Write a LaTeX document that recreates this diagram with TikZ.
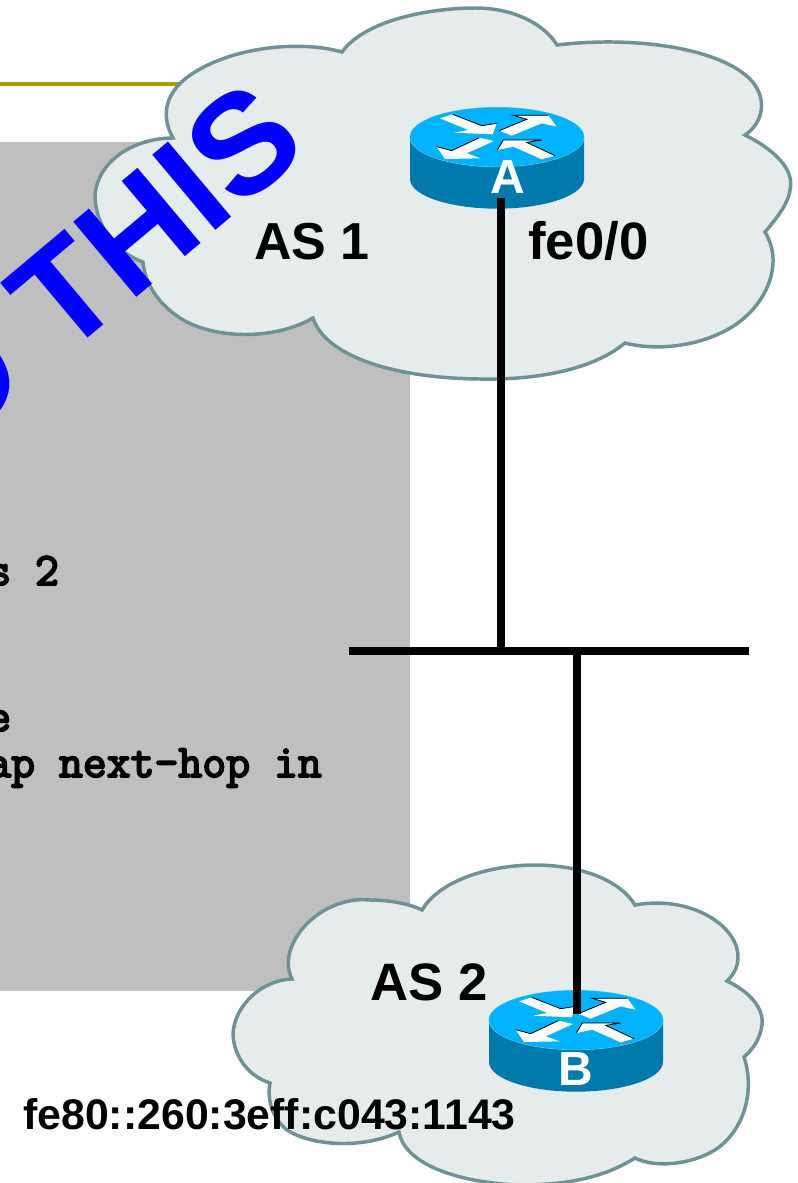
\documentclass[tikz,border=0pt]{standalone}
\usepackage{fontspec}
\setmainfont{Liberation Sans}
\newfontfamily\cfgfont[FakeBold=4]{Latin Modern Mono}
\definecolor{gold}{HTML}{A89C00}
\definecolor{panel}{HTML}{BFBFBF}
\definecolor{cloudfill}{HTML}{E6ECEC}
\definecolor{cloudline}{HTML}{6F9296}
\definecolor{rtop}{HTML}{00B2FF}
\definecolor{rside}{HTML}{0079AC}
\newcommand{\routerbody}{%
  \fill[rside] (30,141) -- (30,267) arc[x radius=261,y radius=89,start angle=180,end angle=0] -- (552,141) -- cycle;
  \draw[rtop!50!white,line width=.6pt] (291,141) ellipse[x radius=261,y radius=89];
  \fill[rtop] (291,141) ellipse[x radius=261,y radius=89];
  \fill[white] (120,85) -- (158,73) -- (245,107) -- (290,100) -- (278,133) -- (162,128) -- (205,120) -- cycle;
  \fill[white] (298,122) -- (380,88) -- (340,76) -- (445,76) -- (470,110) -- (425,100) -- (335,137) -- cycle;
  \fill[white] (282,153) -- (238,143) -- (155,182) -- (110,170) -- (135,207) -- (242,205) -- (200,190) -- cycle;
  \fill[white] (292,180) -- (310,150) -- (425,150) -- (380,157) -- (465,197) -- (425,208) -- (340,170) -- cycle;
  \draw[black,line width=.6pt] (158,73) -- (245,107) -- (290,100);
  \draw[black,line width=.6pt] (298,122) -- (380,88) -- (340,76) -- (445,76);
  \draw[black,line width=.6pt] (238,143) -- (155,182) -- (110,170);
  \draw[black,line width=.6pt] (292,180) -- (310,150) -- (425,150) -- (380,157) -- (465,197);
}
\tikzset{
  cloudshape/.style={fill=cloudfill,draw=cloudline,line width=2.6pt,line join=miter,miter limit=3},
  wire/.style={line width=6pt,black},
  lab/.style={inner sep=0pt,font=\fontsize{39}{39}\selectfont\bfseries,anchor=base west},
  rlab/.style={inner sep=0pt,text=white,font=\fontsize{36}{36}\selectfont\bfseries,anchor=base},
  cfg/.style={inner sep=0pt,font=\fontsize{34.8}{34.8}\selectfont\cfgfont,anchor=base west},
}
\begin{document}
\begin{tikzpicture}[x=0.75pt,y=-0.75pt]
\useasboundingbox (0,0) rectangle (798,1183);
\fill[panel] (0,142) rectangle (410,991);
\draw[gold,line width=3pt] (0,84) -- (190,84);
% cloud AS 1
\draw[cloudshape]
 (173,138) .. controls (160,115) and (165,90) .. (195,72)
 .. controls (235,47) and (300,40) .. (342,52)
 .. controls (365,20) and (430,8) .. (475,8)
 .. controls (515,8) and (545,25) .. (557,45)
 .. controls (640,35) and (730,50) .. (755,85)
 .. controls (768,105) and (760,125) .. (745,135)
 .. controls (775,150) and (795,170) .. (790,190)
 .. controls (788,205) and (775,220) .. (765,232)
 .. controls (785,265) and (765,305) .. (735,325)
 .. controls (705,345) and (660,352) .. (625,343)
 .. controls (590,372) and (530,380) .. (480,379)
 .. controls (390,378) and (325,355) .. (313,318)
 .. controls (275,340) and (215,340) .. (180,318)
 .. controls (160,305) and (145,285) .. (143,262)
 .. controls (110,250) and (95,220) .. (95,195)
 .. controls (98,160) and (135,138) .. (173,138) -- cycle;
% cloud AS 2
\draw[cloudshape]
 (422,910) .. controls (440,880) and (490,865) .. (535,865)
 .. controls (580,865) and (620,880) .. (635,905)
 .. controls (690,895) and (738,925) .. (738,957)
 .. controls (738,968) and (733,975) .. (727,981)
 .. controls (750,992) and (764,1008) .. (762,1025)
 .. controls (760,1040) and (752,1050) .. (744,1057)
 .. controls (755,1090) and (745,1130) .. (715,1150)
 .. controls (690,1165) and (655,1168) .. (635,1158)
 .. controls (600,1180) and (560,1185) .. (520,1185)
 .. controls (460,1183) and (405,1165) .. (399,1132)
 .. controls (360,1150) and (310,1145) .. (287,1130)
 .. controls (272,1118) and (267,1100) .. (270,1083)
 .. controls (245,1075) and (233,1052) .. (233,1033)
 .. controls (235,1005) and (262,980) .. (292,979)
 .. controls (275,945) and (320,895) .. (370,900)
 .. controls (390,900) and (410,904) .. (422,910) -- cycle;
% routers
\begin{scope}[shift={(400,90)},x=.25pt,y=-.25pt]\routerbody\end{scope}
\begin{scope}[shift={(479,973)},x=.25pt,y=-.25pt]\routerbody\end{scope}
\node[rlab] (rA) at (508,193) {A};
\node[rlab] (rB) at (576,1085) {B};
% connectors
\coordinate (aEnd) at (501,198);
\coordinate (busA) at (501,651);
\coordinate (busB) at (577,651);
\coordinate (bEnd) at (577,1014);
\coordinate (busW) at (349,651);
\coordinate (busE) at (749,651);
\draw[wire] (busW) -- (busE);
\draw[wire] (aEnd) -- (busA);
\draw[wire] (busB) -- (bEnd);
% labels
\node[lab] (as1) at (254,259) {AS 1};
\node[lab,font=\fontsize{39.5}{39.5}\selectfont\bfseries] (fe) at (528,259) {fe0/0};
\node[lab,font=\fontsize{39.5}{39.5}\selectfont\bfseries] (as2) at (370,1000) {AS 2};
\node[lab,font=\fontsize{32.1}{32.1}\selectfont\bfseries] (ll) at (23,1129) {fe80::260:3eff:c043:1143};
\node[cfg] (c1) at (-13,585) {s 2};
\node[cfg] (c2) at (-13,731) {e};
\node[cfg] (c3) at (-13,777) {ap next-hop in};
\node[inner sep=0pt,anchor=base west,rotate=40,text={rgb,255:red,0;green,0;blue,255},font=\fontsize{107}{107}\selectfont\bfseries] (wm) at (-53,456) {O THIS};
\end{tikzpicture}
\end{document}
